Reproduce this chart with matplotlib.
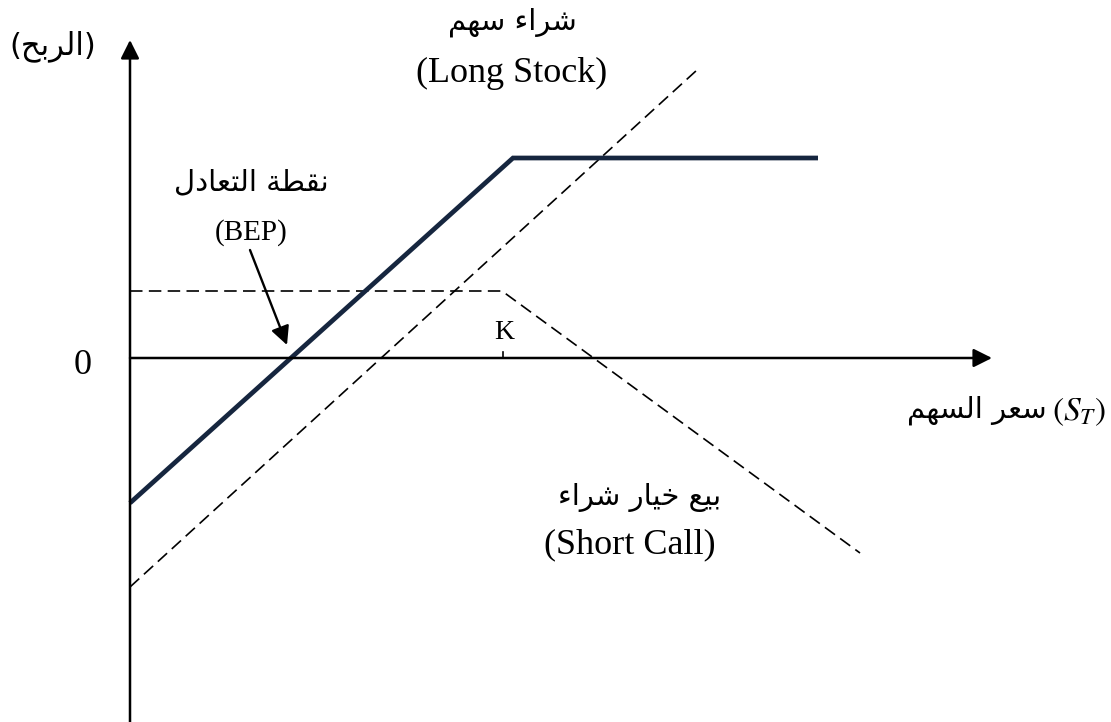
import matplotlib
matplotlib.use("Agg")
import matplotlib.pyplot as plt

# ---------------- data (profit diagram, origin at axis crossing) ----------------
long_stock_x = [0.0, 56.7]
long_stock_y = [-22.9, 28.8]
short_call_x = [0.0, 37.2, 73.0]
short_call_y = [6.7, 6.7, -19.5]
covered_x = [0.0, 38.3, 68.8]
covered_y = [-14.5, 20.0, 20.0]
strike_K = 37.3

lbl_profit = "الربح"
lbl_long_ar = "شراء سهم"
lbl_long_en = "(Long Stock)"
lbl_bep_ar = "نقطة التعادل"
lbl_bep_en = "(BEP)"
lbl_price_ar = "سعر السهم"
lbl_price_sym = "$(S_T)$"
lbl_short_ar = "بيع خيار شراء"
lbl_short_en = "(Short Call)"

# ---------------- simple Arabic shaping (presentation forms, visual order) ------
FORMS = {
    'ء': ('\uFE80', None, None, None),
    'ا': ('\uFE8D', '\uFE8E', None, None),
    'ب': ('\uFE8F', '\uFE90', '\uFE91', '\uFE92'),
    'ة': ('\uFE93', '\uFE94', None, None),
    'ت': ('\uFE95', '\uFE96', '\uFE97', '\uFE98'),
    'ح': ('\uFEA1', '\uFEA2', '\uFEA3', '\uFEA4'),
    'خ': ('\uFEA5', '\uFEA6', '\uFEA7', '\uFEA8'),
    'د': ('\uFEA9', '\uFEAA', None, None),
    'ر': ('\uFEAD', '\uFEAE', None, None),
    'س': ('\uFEB1', '\uFEB2', '\uFEB3', '\uFEB4'),
    'ش': ('\uFEB5', '\uFEB6', '\uFEB7', '\uFEB8'),
    'ط': ('\uFEC1', '\uFEC2', '\uFEC3', '\uFEC4'),
    'ع': ('\uFEC9', '\uFECA', '\uFECB', '\uFECC'),
    'ق': ('\uFED5', '\uFED6', '\uFED7', '\uFED8'),
    'ل': ('\uFEDD', '\uFEDE', '\uFEDF', '\uFEE0'),
    'م': ('\uFEE1', '\uFEE2', '\uFEE3', '\uFEE4'),
    'ن': ('\uFEE5', '\uFEE6', '\uFEE7', '\uFEE8'),
    'ه': ('\uFEE9', '\uFEEA', '\uFEEB', '\uFEEC'),
    'ي': ('\uFEF1', '\uFEF2', '\uFEF3', '\uFEF4'),
}


def shape(text):
    out = []
    n = len(text)
    for i, c in enumerate(text):
        f = FORMS.get(c)
        if f is None:
            out.append(c)
            continue
        prev = text[i - 1] if i > 0 else None
        nxt = text[i + 1] if i < n - 1 else None
        jp = prev in FORMS and FORMS[prev][2] is not None
        jn = f[2] is not None and nxt in FORMS and FORMS[nxt][1] is not None
        if jp and jn:
            out.append(f[3])
        elif jp:
            out.append(f[1] or f[0])
        elif jn:
            out.append(f[2])
        else:
            out.append(f[0])
    return ''.join(out)[::-1]


plt.rcParams['mathtext.fontset'] = 'stix'

fig = plt.figure(figsize=(11.11, 7.22), dpi=100)
ax = fig.add_axes([0, 0, 1, 1])
ax.set_xlim(-13.0, 98.1)
ax.set_ylim(-36.4, 35.8)
ax.axis('off')

AR = ['DejaVu Sans']
SERIF = ['Liberation Serif', 'DejaVu Serif']

# axes with arrows
ax.annotate('', xy=(0, 31.8), xytext=(0, -36.4),
            arrowprops=dict(arrowstyle='-|>', color='black', lw=1.8,
                            mutation_scale=28, shrinkA=0, shrinkB=0))
ax.annotate('', xy=(86.2, 0), xytext=(0, 0),
            arrowprops=dict(arrowstyle='-|>', color='black', lw=1.8,
                            mutation_scale=28, shrinkA=0, shrinkB=0))

# strike tick
ax.plot([strike_K, strike_K], [0, 0.6], color='black', lw=1.2)

# payoff lines
ax.plot(long_stock_x, long_stock_y, color='black', lw=1.2,
        linestyle=(0, (7.5, 3.8)))
ax.plot(short_call_x, short_call_y, color='black', lw=1.2,
        linestyle=(0, (7.5, 3.8)))
ax.plot(covered_x, covered_y, color='#16263f', lw=3.4,
        solid_capstyle='butt', solid_joinstyle='miter')

# BEP arrow
ax.annotate('', xy=(15.7, 1.3), xytext=(12.0, 10.8),
            arrowprops=dict(arrowstyle='-|>', color='black', lw=1.7,
                            mutation_scale=28, shrinkA=0, shrinkB=0))

# labels
ax.text(-7.7, 31.2, '(' + shape(lbl_profit) + ')', family=AR, fontsize=22,
        ha='center', va='center')
ax.text(38.2, 33.6, shape(lbl_long_ar), family=AR, fontsize=21,
        ha='center', va='center')
ax.text(38.2, 28.5, lbl_long_en, family=SERIF, fontsize=26,
        ha='center', va='center')
ax.text(12.1, 17.6, shape(lbl_bep_ar), family=AR, fontsize=21,
        ha='center', va='center')
ax.text(12.1, 12.5, lbl_bep_en, family=SERIF, fontsize=21,
        ha='center', va='center')
ax.text(37.4, 2.5, 'K', family=SERIF, fontsize=20,
        ha='center', va='center')
ax.text(-4.7, -0.8, '0', family=SERIF, fontsize=26,
        ha='center', va='center')
ax.text(91.7, -5.2, shape(lbl_price_ar), family=AR, fontsize=21,
        ha='right', va='center')
ax.text(92.2, -5.4, lbl_price_sym, fontsize=24,
        ha='left', va='center')
ax.text(51.0, -13.9, shape(lbl_short_ar), family=AR, fontsize=21,
        ha='center', va='center')
ax.text(50.0, -18.7, lbl_short_en, family=SERIF, fontsize=26,
        ha='center', va='center')

fig.savefig('out.png', dpi=100)
